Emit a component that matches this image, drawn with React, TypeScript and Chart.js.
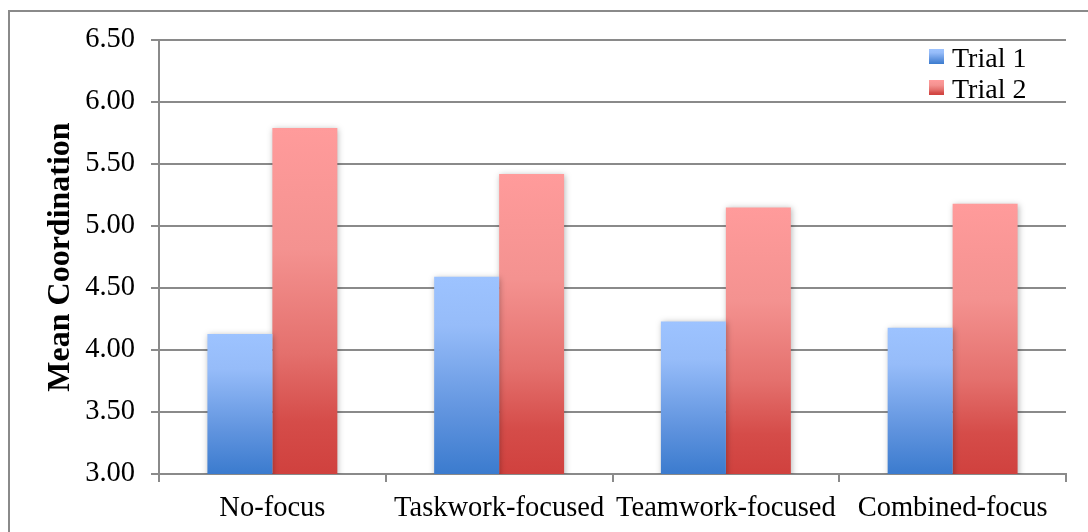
import React, { useEffect, useRef } from "react";
import { Chart, registerables } from "chart.js";

Chart.register(...registerables);

const categories = ["No-focus", "Taskwork-focused", "Teamwork-focused", "Combined-focus"];
const seriesNames = ["Trial 1", "Trial 2"];
const trial1 = [4.13, 4.59, 4.23, 4.18];
const trial2 = [5.79, 5.42, 5.15, 5.18];
const yMin = 3.0;
const yMax = 6.5;
const yStep = 0.5;
const yTitle = "Mean Coordination";

const SERIF = '"Liberation Serif", "Times New Roman", "DejaVu Serif", serif';
const AXIS_GRAY = "#8a8a8a";
const LABEL_SIZE = 28.5;

// gradient stops, light at the top of each bar to dark at its base
const blueStops: [number, string][] = [
  [0, "#9dc3ff"],
  [0.25, "#96bcf9"],
  [0.7, "#5f93de"],
  [1, "#3b7bce"],
];
const redStops: [number, string][] = [
  [0, "#ff9b9b"],
  [0.35, "#f49290"],
  [0.65, "#e4706d"],
  [0.85, "#d54c49"],
  [1, "#d0413e"],
];
const seriesStops = [blueStops, redStops];

function makeGradient(
  ctx: CanvasRenderingContext2D,
  top: number,
  bottom: number,
  stops: [number, string][]
) {
  const g = ctx.createLinearGradient(0, top, 0, bottom);
  stops.forEach(([o, c]) => g.addColorStop(o, c));
  return g;
}

function barFill(stops: [number, string][]) {
  return (c: any) => {
    const chart = c.chart;
    const y = chart.scales?.y;
    if (!chart.chartArea || !y || typeof c.raw !== "number") return stops[0][1];
    const top = y.getPixelForValue(c.raw);
    const bottom = y.getPixelForValue(yMin);
    return makeGradient(chart.ctx, top, bottom, stops);
  };
}

// soft outer shadow under the bars
const barShadow = {
  id: "barShadow",
  beforeDatasetsDraw(chart: any) {
    const ctx = chart.ctx;
    ctx.save();
    ctx.shadowColor = "rgba(0,0,0,0.28)";
    ctx.shadowBlur = 6;
    ctx.shadowOffsetX = 1;
    ctx.shadowOffsetY = 1;
  },
  afterDatasetsDraw(chart: any) {
    chart.ctx.restore();
  },
};

// legend drawn inside the plot, top-right corner
const innerLegend = {
  id: "innerLegend",
  afterDraw(chart: any) {
    const ctx = chart.ctx;
    const area = chart.chartArea;
    const lx = area.right - 137;
    const ly = area.top + 9;
    ctx.save();
    chart.data.datasets.forEach((ds: any, i: number) => {
      const sy = ly + i * 31;
      ctx.fillStyle = makeGradient(ctx, sy, sy + 15, seriesStops[i]);
      ctx.fillRect(lx, sy, 15, 15);
      ctx.fillStyle = "#000";
      ctx.font = `28px ${SERIF}`;
      ctx.textAlign = "left";
      ctx.textBaseline = "alphabetic";
      ctx.fillText(ds.label, lx + 23, sy + 18);
    });
    ctx.restore();
  },
};

export default function App() {
  const canvasRef = useRef<HTMLCanvasElement | null>(null);

  useEffect(() => {
    if (!canvasRef.current) return;
    const chart = new Chart(canvasRef.current, {
      type: "bar",
      data: {
        labels: categories,
        datasets: [
          {
            label: seriesNames[0],
            data: trial1,
            backgroundColor: barFill(blueStops),
            borderWidth: 0,
          },
          {
            label: seriesNames[1],
            data: trial2,
            backgroundColor: barFill(redStops),
            borderWidth: 0,
          },
        ],
      },
      options: {
        responsive: false,
        animation: false,
        devicePixelRatio: 1,
        categoryPercentage: 0.573,
        barPercentage: 1,
        layout: { padding: { left: 34, top: 40, right: 22, bottom: 0 } },
        plugins: {
          legend: { display: false },
          tooltip: { enabled: false },
        },
        scales: {
          x: {
            offset: true,
            grid: {
              offset: true,
              drawOnChartArea: false,
              drawTicks: true,
              tickLength: 8,
              color: AXIS_GRAY,
              lineWidth: 2,
            },
            border: { display: true, color: AXIS_GRAY, width: 2 },
            ticks: {
              color: "#000",
              font: { family: SERIF, size: LABEL_SIZE },
              padding: 9,
              maxRotation: 0,
              autoSkip: false,
            },
            afterFit: (scale: any) => {
              scale.height = 58;
            },
          },
          y: {
            min: yMin,
            max: yMax,
            grid: {
              color: AXIS_GRAY,
              lineWidth: 2,
              drawTicks: true,
              tickLength: 8,
            },
            border: { display: true, color: AXIS_GRAY, width: 2 },
            ticks: {
              stepSize: yStep,
              color: "#000",
              font: { family: SERIF, size: LABEL_SIZE },
              padding: 16,
              callback: (v: any) => Number(v).toFixed(2),
            },
            title: {
              display: true,
              text: yTitle,
              color: "#000",
              font: { family: SERIF, size: 32, weight: "bold" },
              padding: { top: 8, bottom: 0 },
            },
            afterFit: (scale: any) => {
              scale.width = 125;
            },
          },
        },
      },
      plugins: [barShadow, innerLegend],
    });
    return () => chart.destroy();
  }, []);

  return (
    <div
      style={{
        position: "fixed",
        left: 0,
        top: 0,
        width: 1088,
        height: 532,
        overflow: "hidden",
        background: "#fff",
      }}
    >
      <div
        style={{
          position: "absolute",
          left: 8,
          top: 10,
          width: 1200,
          height: 600,
          borderLeft: `2px solid ${AXIS_GRAY}`,
          borderTop: `2px solid ${AXIS_GRAY}`,
        }}
      />
      <canvas
        ref={canvasRef}
        width={1088}
        height={532}
        style={{ position: "absolute", left: 0, top: 0, width: 1088, height: 532 }}
      />
    </div>
  );
}
